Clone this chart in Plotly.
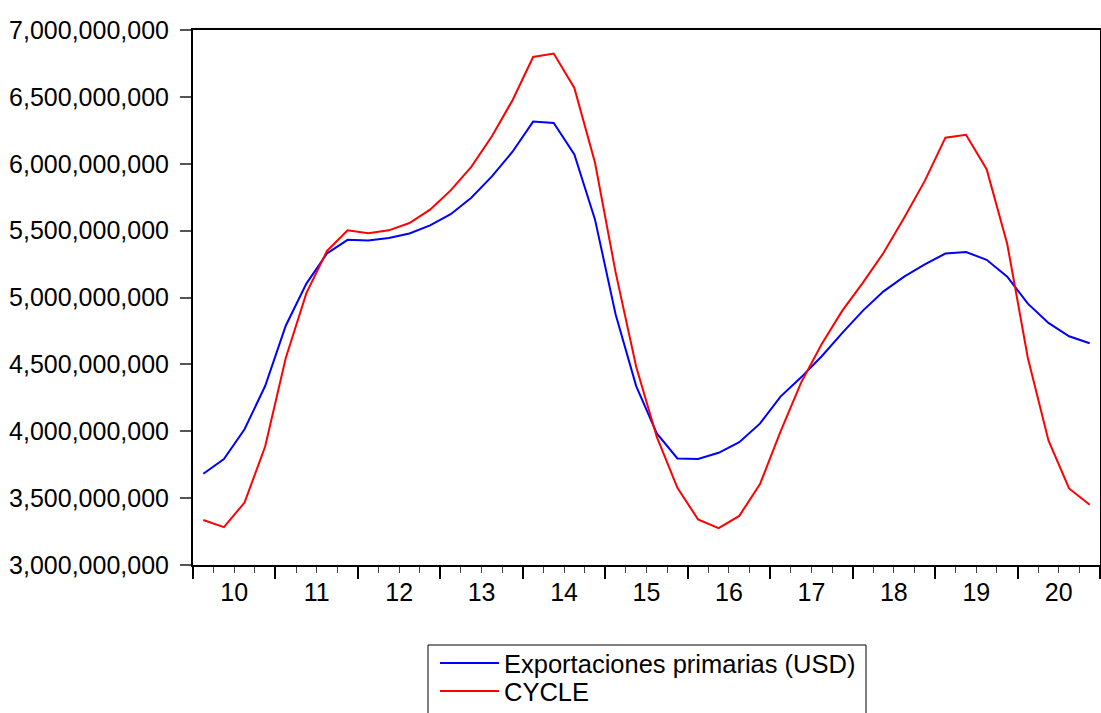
import plotly.graph_objects as go

years = ["10", "11", "12", "13", "14", "15", "16", "17", "18", "19", "20"]

exportaciones = [
    3.682e9, 3.792e9, 4.015e9, 4.338e9, 4.789e9, 5.104e9, 5.329e9, 5.431e9,
    5.426e9, 5.445e9, 5.479e9, 5.539e9, 5.623e9, 5.746e9, 5.906e9, 6.090e9,
    6.315e9, 6.305e9, 6.069e9, 5.584e9, 4.875e9, 4.338e9, 3.984e9, 3.797e9,
    3.792e9, 3.839e9, 3.918e9, 4.057e9, 4.259e9, 4.403e9, 4.561e9, 4.736e9,
    4.902e9, 5.046e9, 5.156e9, 5.248e9, 5.329e9, 5.340e9, 5.282e9, 5.156e9,
    4.954e9, 4.810e9, 4.710e9, 4.658e9,
]

cycle = [
    3.336e9, 3.283e9, 3.467e9, 3.886e9, 4.548e9, 5.033e9, 5.348e9, 5.502e9,
    5.481e9, 5.502e9, 5.557e9, 5.657e9, 5.801e9, 5.977e9, 6.205e9, 6.475e9,
    6.798e9, 6.824e9, 6.567e9, 6.009e9, 5.190e9, 4.482e9, 3.957e9, 3.577e9,
    3.341e9, 3.275e9, 3.367e9, 3.603e9, 3.997e9, 4.364e9, 4.652e9, 4.902e9,
    5.111e9, 5.334e9, 5.597e9, 5.872e9, 6.195e9, 6.216e9, 5.959e9, 5.400e9,
    4.548e9, 3.931e9, 3.572e9, 3.451e9,
]

n = len(exportaciones)
xq = [i + 0.5 for i in range(n)]
nyears = len(years)

FONT = "Liberation Sans, Arial, sans-serif"

# plot area in pixels
L, R, T, B = 193, 1100, 30, 565
W, H = R - L, B - T


def px_x(p):
    return (p - L) / W


def px_y(p):
    return (B - p) / H


fig = go.Figure()
fig.add_trace(go.Scatter(x=xq, y=exportaciones, mode="lines",
                         name="Exportaciones primarias (USD)",
                         line=dict(color="#0000FF", width=2), legend="legend"))
fig.add_trace(go.Scatter(x=xq, y=cycle, mode="lines", name="CYCLE",
                         line=dict(color="#FF0000", width=2), legend="legend2"))
fig.add_trace(go.Scatter(x=[0, nyears * 4], y=[None, None], xaxis="x2",
                         showlegend=False, hoverinfo="skip"))

leg_common = dict(xanchor="left", yanchor="top", bgcolor="rgba(0,0,0,0)",
                  borderwidth=0, itemwidth=59,
                  font=dict(family=FONT, size=25.5, color="black"))

fig.update_layout(
    width=1101, height=713,
    margin=dict(l=L, r=1101 - R, t=T, b=713 - B, autoexpand=False),
    paper_bgcolor="white", plot_bgcolor="white",
    font=dict(family=FONT, size=25, color="black"),
    showlegend=True,
    legend=dict(x=px_x(435), y=px_y(640), **leg_common),
    legend2=dict(x=px_x(435), y=px_y(668), **leg_common),
    shapes=[dict(type="rect", xref="paper", yref="paper",
                 x0=px_x(428), x1=px_x(866), y0=px_y(645), y1=px_y(730),
                 line=dict(color="black", width=1), fillcolor="rgba(0,0,0,0)",
                 layer="below")],
    xaxis=dict(range=[0, nyears * 4], showgrid=False, zeroline=False,
               automargin=False,
               showline=True, linecolor="black", linewidth=2, mirror=True,
               tickmode="array", tickvals=[4 * k for k in range(nyears + 1)],
               ticktext=["" for _ in range(nyears + 1)],
               ticks="outside", ticklen=12, tickwidth=1.5, tickcolor="black",
               minor=dict(dtick=1, tick0=0, ticks="outside", ticklen=6,
                          tickwidth=1, tickcolor="#444444", showgrid=False)),
    xaxis2=dict(range=[0, nyears * 4], overlaying="x", anchor="y", side="bottom",
                showgrid=False, zeroline=False, showline=False, automargin=False,
                tickmode="array", tickvals=[4 * k + 2 for k in range(nyears)],
                ticktext=years, ticks="", ticklabelstandoff=10,
                tickfont=dict(family=FONT, size=25, color="black")),
    yaxis=dict(range=[3e9, 7e9], dtick=5e8, tick0=3e9, tickformat=",",
               showgrid=False, zeroline=False, showline=True, linecolor="black",
               linewidth=2, mirror=True, ticks="outside", ticklen=11,
               tickwidth=1.5, tickcolor="#555555", automargin=False,
               ticklabelstandoff=6,
               tickfont=dict(family=FONT, size=25, color="black")),
)

fig.write_html("out.html",
               config={"displayModeBar": False},
               post_script="document.body.style.margin='0';")
